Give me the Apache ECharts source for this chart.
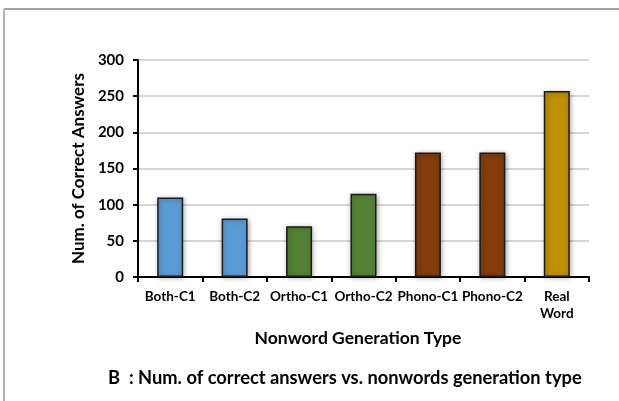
<!DOCTYPE html>
<html>
<head>
<meta charset="utf-8">
<script src="https://cdn.jsdelivr.net/npm/echarts@6/dist/echarts.min.js"></script>
<style>
  html, body { margin: 0; padding: 0; background: #fff; }
  #chart { width: 619px; height: 401px; }
</style>
</head>
<body>
<div id="chart"></div>
<script>
// Nonword generation types and number of correct answers
const categories = ['Both-C1', 'Both-C2', 'Ortho-C1', 'Ortho-C2', 'Phono-C1', 'Phono-C2', 'Real\nWord'];
const correctAnswers = [110, 81, 70, 115, 172, 172, 257];
const barColors = ['#5B9BD5', '#5B9BD5', '#548235', '#548235', '#843C0C', '#843C0C', '#BF9000'];
const yTicks = [0, 50, 100, 150, 200, 250, 300];

const FONT = 'Lato, "Open Sans", sans-serif';

const chart = echarts.init(document.getElementById('chart'), null, { renderer: 'canvas' });

chart.setOption({
  animation: false,
  backgroundColor: '#ffffff',
  grid: { left: 138, right: 30, top: 60, bottom: 124, containLabel: false },
  graphic: [
    { type: 'line', shape: { x1: 4, y1: 9, x2: 619, y2: 9 }, style: { stroke: '#a6a6a6', lineWidth: 2 } },
    { type: 'line', shape: { x1: 4, y1: 9, x2: 4, y2: 401 }, style: { stroke: '#b3b3b3', lineWidth: 2 } },
    {
      type: 'text', x: 358, y: 338,
      style: { text: 'Nonword Generation Type', font: 'bold 17.5px ' + FONT, fill: '#000', align: 'center', verticalAlign: 'middle' }
    },
    {
      type: 'text', x: 108, y: 378,
      style: { text: 'B  : Num. of correct answers vs. nonwords generation type', font: 'bold 18.3px ' + FONT, fill: '#000', align: 'left', verticalAlign: 'middle' }
    }
  ],
  xAxis: {
    type: 'category',
    data: categories,
    axisLine: { lineStyle: { color: '#000', width: 2 } },
    axisTick: { show: true, alignWithLabel: false, length: 5, lineStyle: { color: '#000', width: 2 } },
    axisLabel: {
      color: '#000', fontWeight: 'bold', fontSize: 13.5, fontFamily: FONT,
      margin: 11, interval: 0, lineHeight: 17
    }
  },
  yAxis: {
    type: 'value',
    min: 0, max: 300, interval: 50,
    name: 'Num. of Correct Answers',
    nameLocation: 'middle',
    nameGap: 51,
    nameTextStyle: { color: '#000', fontWeight: 'bold', fontSize: 17, fontFamily: FONT },
    axisLine: { show: true, lineStyle: { color: '#000', width: 2 } },
    axisTick: { show: true, length: 5, lineStyle: { color: '#000', width: 2 } },
    axisLabel: {
      color: '#000', fontWeight: 'bold', fontSize: 15, fontFamily: FONT, margin: 14,
      formatter: v => (yTicks.includes(v) ? String(v) : '')
    },
    splitLine: { show: true, lineStyle: { color: '#c8c8c8', width: 1.5 } }
  },
  series: [{
    type: 'bar',
    barWidth: 26,
    data: correctAnswers.map((v, i) => ({
      value: v,
      itemStyle: { color: barColors[i] }
    })),
    itemStyle: {
      borderColor: '#1a1a1a', borderWidth: 1.5,
      shadowColor: 'rgba(0,0,0,0.35)', shadowBlur: 5, shadowOffsetX: 1, shadowOffsetY: 1
    }
  }]
});
</script>
</body>
</html>
